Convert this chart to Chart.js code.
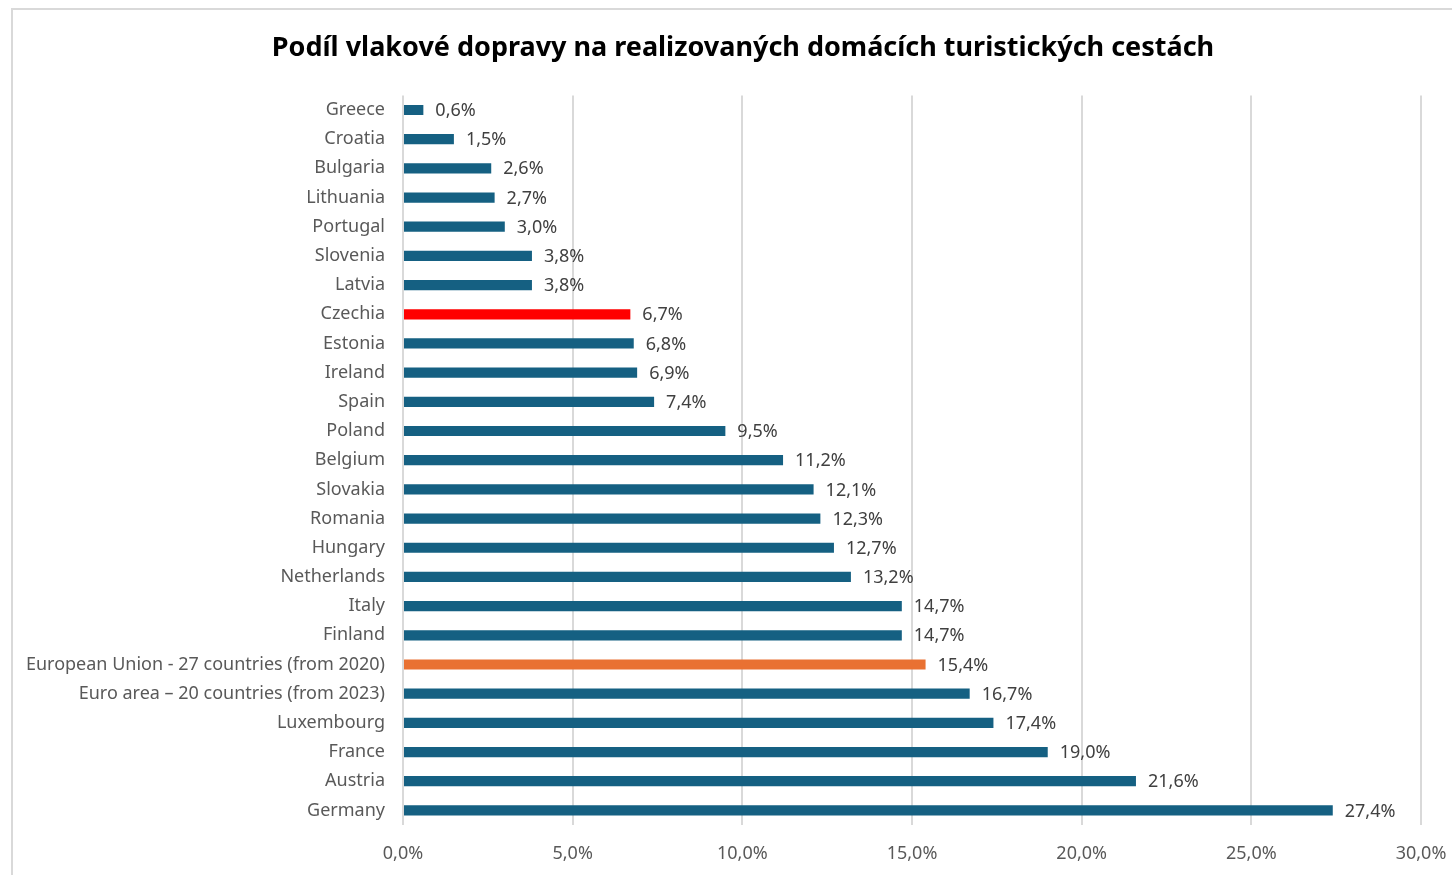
<!DOCTYPE html>
<html>
<head>
<meta charset="utf-8">
<script src="https://cdn.jsdelivr.net/npm/chart.js@4"></script>
<style>
  body { margin: 0; overflow: hidden; background: #fff; }
  #frame { position: absolute; left: 11px; top: 8px; width: 1500px; height: 900px;
           border-left: 2px solid #d9d9d9; border-top: 2px solid #d9d9d9; }
  #graf { position: absolute; left: 0; top: 0; }
</style>
</head>
<body>
<div id="frame"></div>
<canvas id="graf" width="1452" height="875"></canvas>
<script>
// data
var countries = ["Greece", "Croatia", "Bulgaria", "Lithuania", "Portugal", "Slovenia", "Latvia",
  "Czechia", "Estonia", "Ireland", "Spain", "Poland", "Belgium", "Slovakia", "Romania", "Hungary",
  "Netherlands", "Italy", "Finland", "European Union - 27 countries (from 2020)",
  "Euro area \u2013 20 countries (from 2023)", "Luxembourg", "France", "Austria", "Germany"];
var shares = [0.6, 1.5, 2.6, 2.7, 3.0, 3.8, 3.8, 6.7, 6.8, 6.9, 7.4, 9.5, 11.2, 12.1, 12.3, 12.7,
  13.2, 14.7, 14.7, 15.4, 16.7, 17.4, 19.0, 21.6, 27.4];
var xTickLabels = ["0,0%", "5,0%", "10,0%", "15,0%", "20,0%", "25,0%", "30,0%"];

var font = "'Noto Sans', sans-serif";

function fmt(v) {
    return v.toFixed(1).replace(".", ",") + "%";
}

// barvy sloupcu
var barColors = countries.map(function(c) {
    if (c === "Czechia") return "#ff0000";
    if (c.indexOf("European Union") === 0) return "#e97132";
    return "#156082";
});

// popisky hodnot za koncem sloupce
var valueLabels = {
    id: "valueLabels",
    afterDatasetsDraw: function(chart) {
        var ctx = chart.ctx;
        var meta = chart.getDatasetMeta(0);
        ctx.save();
        ctx.font = "18px " + font;
        ctx.fillStyle = "#404040";
        ctx.textAlign = "left";
        ctx.textBaseline = "middle";
        meta.data.forEach(function(bar, i) {
            ctx.fillText(fmt(shares[i]), bar.x + 12, bar.y + 1);
        });
        ctx.restore();
    }
};

// nadpis vycentrovat na cely ramecek grafu
var titleCenter = {
    id: "titleCenter",
    afterLayout: function(chart) {
        chart.titleBlock.left = 0;
        chart.titleBlock.right = 1486;
    }
};

var ctx = document.getElementById("graf").getContext("2d");
var chart = new Chart(ctx, {
    type: "bar",
    data: {
        labels: countries,
        datasets: [{
            data: shares,
            backgroundColor: barColors,
            barPercentage: 0.35,
            categoryPercentage: 1
        }]
    },
    options: {
        indexAxis: "y",
        responsive: false,
        animation: false,
        layout: { padding: { left: 0, right: 31, top: 0, bottom: 0 } },
        plugins: {
            legend: { display: false },
            tooltip: { enabled: false },
            title: {
                display: true,
                text: "Podíl vlakové dopravy na realizovaných domácích turistických cestách",
                color: "#000",
                font: { family: font, size: 27, weight: "bold" },
                padding: { top: 32, bottom: 31 }
            }
        },
        scales: {
            x: {
                min: 0,
                max: 30,
                afterFit: function(scale) {
                    scale.height = 50;
                    scale.paddingLeft = 0;
                    scale.paddingRight = 0;
                },
                ticks: {
                    stepSize: 5,
                    padding: 18,
                    color: "#595959",
                    font: { family: font, size: 18 },
                    callback: function(v, i) { return xTickLabels[i]; }
                },
                grid: { color: "#d9d9d9", lineWidth: 2, drawTicks: false },
                border: { display: false }
            },
            y: {
                afterFit: function(scale) {
                    scale.width = 403;
                    scale.paddingTop = 0;
                    scale.paddingBottom = 0;
                },
                ticks: {
                    padding: 18,
                    color: "#595959",
                    font: { family: font, size: 18 }
                },
                grid: { display: false, drawTicks: false },
                border: { display: false }
            }
        }
    },
    plugins: [valueLabels, titleCenter]
});
</script>
</body>
</html>
